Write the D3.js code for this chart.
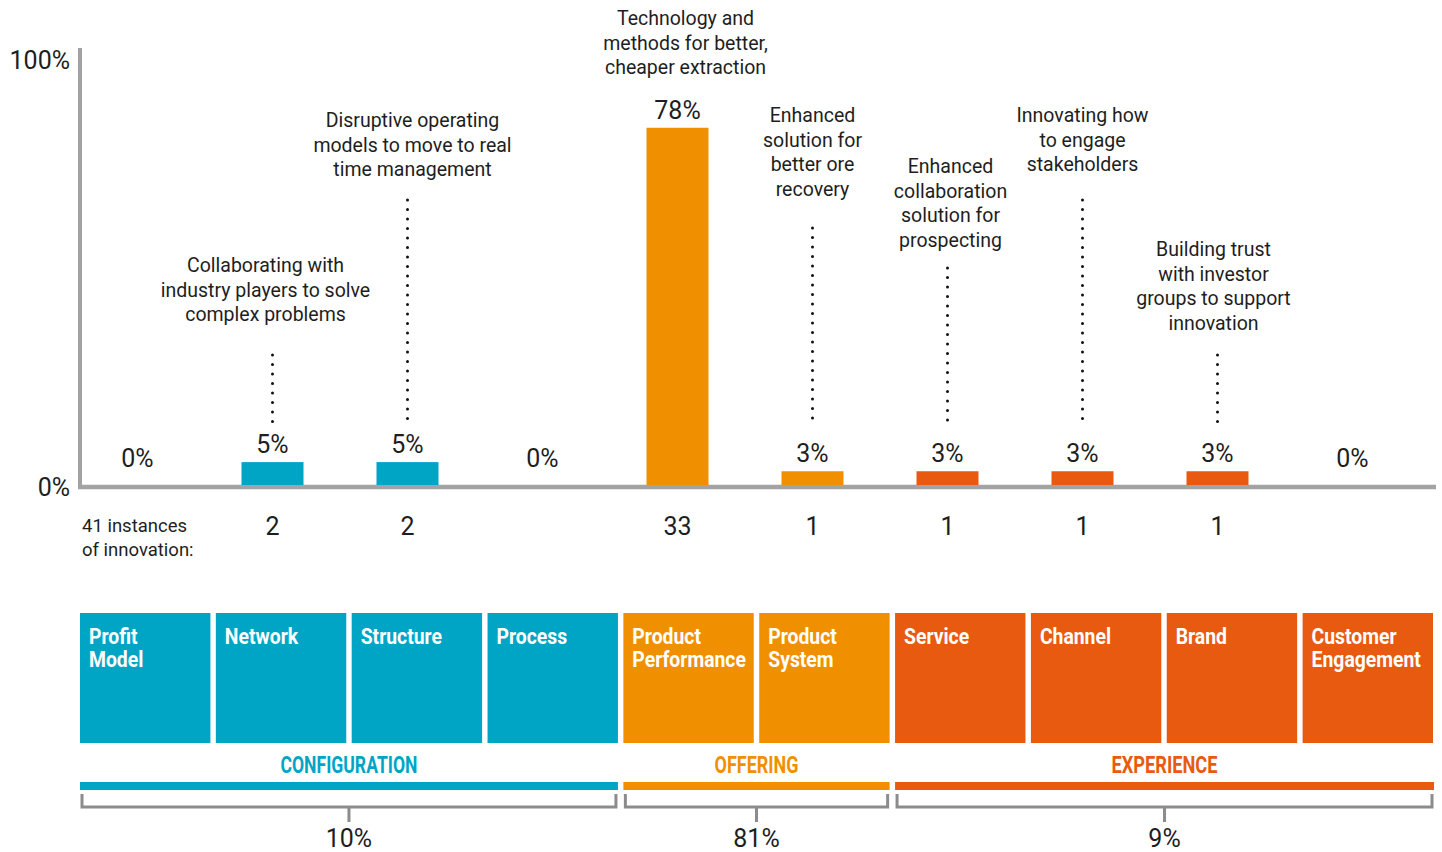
<!DOCTYPE html>
<html>
<head>
<meta charset="utf-8">
<script src="https://cdn.jsdelivr.net/npm/d3@7"></script>
<style>
  html, body { margin: 0; padding: 0; background: #fff; }
  svg { display: block; }
  .txt { font-family: Roboto, "Noto Sans", sans-serif; fill: #1e1e1e; }
  .cond { font-family: Roboto, "Noto Sans", sans-serif; font-weight: bold; }
</style>
</head>
<body>
<svg id="chart" width="1442" height="852"></svg>
<script>
'use strict';

// ---- data ----
var categories = ['Profit Model', 'Network', 'Structure', 'Process', 'Product Performance',
                  'Product System', 'Service', 'Channel', 'Brand', 'Customer Engagement'];
var boxLabels = [['Profit', 'Model'], ['Network'], ['Structure'], ['Process'], ['Product', 'Performance'],
                 ['Product', 'System'], ['Service'], ['Channel'], ['Brand'], ['Customer', 'Engagement']];
var percents = [0, 5, 5, 0, 78, 3, 3, 3, 3, 0];
var counts = [0, 2, 2, 0, 33, 1, 1, 1, 1, 0];
var categoryGroup = [0, 0, 0, 0, 1, 1, 2, 2, 2, 2];
var groups = ['CONFIGURATION', 'OFFERING', 'EXPERIENCE'];
var groupShares = ['10%', '81%', '9%'];
var groupColors = ['#00a5c5', '#f09000', '#e85a10'];
var yTicks = [0, 100];
var totalLabel = ['41 instances', 'of innovation:'];
var notes = [
  null,
  ['Collaborating with', 'industry players to solve', 'complex problems'],
  ['Disruptive operating', 'models to move to real', 'time management'],
  null,
  ['Technology and', 'methods for better,', 'cheaper extraction'],
  ['Enhanced', 'solution for', 'better ore', 'recovery'],
  ['Enhanced', 'collaboration', 'solution for', 'prospecting'],
  ['Innovating how', 'to engage', 'stakeholders'],
  ['Building trust', 'with investor', 'groups to support', 'innovation'],
  null
];

// ---- layout ----
var noteFirstLineY = [0, 272, 127, 0, 25, 122, 173, 122, 256, 0];
var noteShiftX = [0, -7, 5, 0, 8, 0, 3, 0, -4, 0];
var noteDotTop = [0, 355, 200, 0, 0, 228, 268, 200, 355, 0];
var nLineHeight = 24.5;
var nBarWidth = 62;
var fBoxScaleX = 0.88;

var svg = d3.select('#chart');

var x = d3.scalePoint().domain(categories).range([70, 1420]).padding(0.5);
var y = d3.scaleLinear().domain([0, 100]).range([485, 27]);
var xBox = d3.scaleBand().domain(categories).range([80, 1433]).paddingInner(0.04).paddingOuter(0);

// axes
svg.append('line')
  .attr('x1', 80).attr('x2', 80).attr('y1', 48).attr('y2', 489)
  .attr('stroke', '#a3a3a3').attr('stroke-width', 4);
svg.append('line')
  .attr('x1', 78).attr('x2', 1436).attr('y1', y(0) + 2).attr('y2', y(0) + 2)
  .attr('stroke', '#a3a3a3').attr('stroke-width', 4.5);

svg.selectAll('.ytick')
  .data(yTicks)
  .enter().append('text')
  .attr('class', 'txt ytick')
  .attr('x', 70)
  .attr('y', function(d) { return d == 0 ? y(0) + 11 : 69; })
  .attr('text-anchor', 'end')
  .attr('font-size', 25)
  .text(function(d) { return d + '%'; });

// bars
svg.selectAll('.bar')
  .data(categories)
  .enter().append('rect')
  .attr('class', 'bar')
  .attr('x', function(d) { return x(d) - nBarWidth / 2; })
  .attr('width', nBarWidth)
  .attr('y', function(d, i) { return y(percents[i]); })
  .attr('height', function(d, i) { return y(0) - y(percents[i]); })
  .attr('fill', function(d, i) { return groupColors[categoryGroup[i]]; });

// value labels
svg.selectAll('.val')
  .data(categories)
  .enter().append('text')
  .attr('class', 'txt val')
  .attr('x', function(d) { return x(d); })
  .attr('y', function(d, i) { return Math.min(y(percents[i]) - 9, y(0) - 18); })
  .attr('text-anchor', 'middle')
  .attr('font-size', 25)
  .text(function(d, i) { return percents[i] + '%'; });

// annotations
categories.forEach(function(strCat, i)
{
  var arrayLines = notes[i];
  if (arrayLines == null)
  {
    return;
  }
  var t = svg.append('text')
    .attr('class', 'txt')
    .attr('text-anchor', 'middle')
    .attr('font-size', 19.5);
  arrayLines.forEach(function(strLine, j)
  {
    t.append('tspan')
      .attr('x', x(strCat) + noteShiftX[i])
      .attr('y', noteFirstLineY[i] + j * nLineHeight)
      .text(strLine);
  });
  if (noteDotTop[i] > 0)
  {
    svg.append('line')
      .attr('x1', x(strCat)).attr('x2', x(strCat))
      .attr('y1', noteDotTop[i]).attr('y2', 422)
      .attr('stroke', '#111').attr('stroke-width', 3)
      .attr('stroke-linecap', 'round')
      .attr('stroke-dasharray', '0 9.5');
  }
});

// counts row
var tl = svg.append('text').attr('class', 'txt').attr('font-size', 18.5);
totalLabel.forEach(function(s, j)
{
  tl.append('tspan').attr('x', 82).attr('y', 532 + j * 24).text(s);
});

svg.selectAll('.cnt')
  .data(categories.filter(function(d, i) { return counts[i] > 0; }))
  .enter().append('text')
  .attr('class', 'txt cnt')
  .attr('x', function(d) { return x(d); })
  .attr('y', 535)
  .attr('text-anchor', 'middle')
  .attr('font-size', 25)
  .text(function(d) { return counts[categories.indexOf(d)]; });

// category boxes
var box = svg.selectAll('.box')
  .data(categories)
  .enter().append('g')
  .attr('class', 'box')
  .attr('transform', function(d) { return 'translate(' + xBox(d) + ',613)'; });

box.append('rect')
  .attr('width', xBox.bandwidth())
  .attr('height', 130)
  .attr('fill', function(d, i) { return groupColors[categoryGroup[i]]; });

box.each(function(d, i)
{
  var t = d3.select(this).append('text')
    .attr('class', 'cond')
    .attr('fill', '#fff')
    .attr('font-size', 22)
    .attr('transform', 'translate(9,0) scale(' + fBoxScaleX + ',1)');
  boxLabels[i].forEach(function(s, j)
  {
    t.append('tspan').attr('x', 0).attr('y', 31 + j * 23).text(s);
  });
});

// group bars, labels and brackets
var groupExtent = groups.map(function(g, gi)
{
  var arrayCats = categories.filter(function(d, i) { return categoryGroup[i] == gi; });
  var x0 = xBox(arrayCats[0]);
  var x1 = xBox(arrayCats[arrayCats.length - 1]) + xBox.bandwidth();
  return [x0, x1];
});
var groupTextWidth = [137, 84, 106];

groups.forEach(function(g, gi)
{
  var x0 = groupExtent[gi][0];
  var x1 = groupExtent[gi][1];
  if (gi == groups.length - 1)
  {
    x1 = 1434;
  }
  var xm = (x0 + x1) / 2;

  svg.append('rect')
    .attr('x', x0).attr('y', 782)
    .attr('width', x1 - x0).attr('height', 8)
    .attr('fill', groupColors[gi]);

  svg.append('text')
    .attr('class', 'cond')
    .attr('x', xm).attr('y', 773)
    .attr('text-anchor', 'middle')
    .attr('font-size', 24)
    .attr('fill', groupColors[gi])
    .attr('textLength', groupTextWidth[gi])
    .attr('lengthAdjust', 'spacingAndGlyphs')
    .text(g);

  svg.append('path')
    .attr('d', 'M' + (x0 + 2) + ',794 V807 H' + (x1 - 2) + ' V794 M' + xm + ',807 V822')
    .attr('fill', 'none')
    .attr('stroke', '#8c8c8c')
    .attr('stroke-width', 3);

  svg.append('text')
    .attr('class', 'txt')
    .attr('x', xm).attr('y', 847)
    .attr('text-anchor', 'middle')
    .attr('font-size', 25)
    .text(groupShares[gi]);
});
</script>
</body>
</html>
